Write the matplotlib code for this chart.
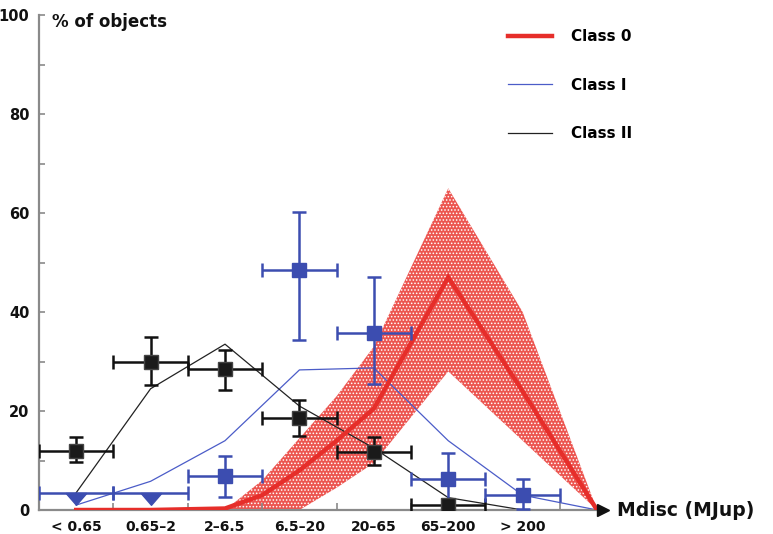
import numpy as np
import matplotlib.pyplot as plt
from matplotlib.path import Path

plt.rcParams['font.family'] = ['DejaVu Sans']
plt.rcParams['hatch.linewidth'] = 0.7

# disc-mass bins (MJup)
bins = ['< 0.65', '0.65–2', '2–6.5', '6.5–20', '20–65', '65–200', '> 200']

# Class 0 model curve and its uncertainty band
c0_x = [0, 1, 2, 2.5, 3, 3.5, 4, 5, 6, 7]
c0_mid = [0, 0, 0.3, 3, 8, 14, 20.5, 47, 24, 0]
c0_hi = [0, 0, 0, 6, 14.5, 23, 33, 65, 40, 0]
c0_lo = [0, 0, 0, 0, 0, 4.5, 9.5, 28, 14, 0]

# Class I model and observed fractions
c1_x = [0, 1, 2, 3, 4, 5, 6, 7]
c1_model = [1, 5.8, 14, 28.3, 28.7, 14, 3, 0]
c1_obs_x = [2, 3, 4, 5, 6]
c1_obs = [6.8, 48.5, 35.8, 6.3, 3]
c1_obs_lo = [2.6, 34.4, 25.4, 0.5, 0.3]
c1_obs_hi = [10.9, 60.2, 47, 11.5, 6.3]
c1_lim_x = [0, 1]
c1_lim = [3.5, 3.5]

# Class II model and observed fractions
c2_x = [0, 1, 2, 3, 4, 5, 6]
c2_model = [3.5, 24.5, 33.5, 21, 12.5, 2.5, 0]
c2_obs_x = [0, 1, 2, 3, 4, 5]
c2_obs = [12, 30, 28.5, 18.5, 11.8, 1]
c2_obs_lo = [9.7, 25.3, 24.2, 15, 9.0, 1]
c2_obs_hi = [14.7, 35, 32.3, 22.2, 14.7, 1]

red = '#e62e2a'
blue = '#3c4db0'
grey = '#8a8a8a'

fig = plt.figure(figsize=(7.73, 5.34), dpi=100)
ax = fig.add_axes([39 / 773, 24 / 534, 564 / 773, 495 / 534])

# stippled uncertainty band
ax.fill_between(c0_x, c0_lo, c0_hi, facecolor='#ec5550', edgecolor='white',
                hatch='.....', linewidth=0, zorder=1)
ax.plot(c0_x, c0_mid, color=red, lw=3.2, zorder=3, label='Class 0',
        solid_joinstyle='miter')

ax.plot(c1_x, c1_model, color='#4b5cc8', lw=0.9, zorder=2, label='Class I')
ax.plot(c2_x, c2_model, color='#222222', lw=0.9, zorder=2, label='Class II')

def err(y, lo, hi):
    return [np.subtract(y, lo), np.subtract(hi, y)]

ax.errorbar(c2_obs_x, c2_obs, yerr=err(c2_obs, c2_obs_lo, c2_obs_hi), xerr=0.5,
            fmt='s', color='#111111', mfc='#1a1a1a', mec='#444444', ms=10,
            elinewidth=1.8, capsize=5, capthick=1.8, zorder=4)
ax.errorbar(c1_obs_x, c1_obs, yerr=err(c1_obs, c1_obs_lo, c1_obs_hi), xerr=0.5,
            fmt='s', color=blue, ms=10, elinewidth=1.8, capsize=5,
            capthick=1.8, zorder=4)

# upper limits: triangle hanging below the bar
tri = Path([(-1, 0), (1, 0), (0, -1.15), (-1, 0)],
           [Path.MOVETO, Path.LINETO, Path.LINETO, Path.CLOSEPOLY])
ax.errorbar(c1_lim_x, c1_lim, xerr=0.5, fmt='none', color=blue,
            elinewidth=1.8, capsize=5, capthick=1.8, zorder=4)
ax.plot(c1_lim_x, c1_lim, ls='none', marker=tri, ms=17, color=blue, zorder=4)

ax.set_xlim(-0.5, 7.08)
ax.set_ylim(0, 100)

ax.set_xticks(range(len(bins)))
ax.set_xticklabels(bins, fontsize=10, fontweight='bold', color='#111111')
ax.set_xticks(np.arange(0.5, 6.6, 1), minor=True)
ax.tick_params(axis='x', which='major', length=0, pad=7)
ax.tick_params(axis='x', which='minor', direction='in', length=5,
               color=grey, width=1.2)

ax.set_yticks(range(0, 101, 20))
ax.set_yticks(range(10, 100, 20), minor=True)
ax.tick_params(axis='y', which='both', direction='in', length=4,
               color=grey, width=1.2, pad=7,
               labelsize=10.5, labelcolor='#111111')
for lab in ax.get_yticklabels():
    lab.set_fontweight('bold')

for s in ['top', 'right']:
    ax.spines[s].set_visible(False)
ax.spines['left'].set_color(grey)
ax.spines['left'].set_linewidth(1.6)
ax.spines['bottom'].set_color(grey)
ax.spines['bottom'].set_linewidth(1.6)

# arrow head and axis title
ax.plot(1.0, 0, marker='>', color='#111111', ms=9, transform=ax.transAxes,
        clip_on=False, zorder=5)
ax.text(1.025, 0, 'Mdisc (MJup)', transform=ax.transAxes, fontsize=13.5,
        fontweight='bold', va='center', ha='left', color='#111111')
ax.text(0.023, 0.986, '% of objects', transform=ax.transAxes, fontsize=12,
        fontweight='bold', va='center', ha='left', color='#111111')

fig.legend(loc='upper left', bbox_to_anchor=(508 / 773, 1 - 29 / 534),
           frameon=False, handlelength=2.9, handletextpad=1.2,
           labelspacing=2.2, borderpad=0, borderaxespad=0,
           prop={'weight': 'bold', 'size': 11})

fig.savefig('out.png', dpi=100)
